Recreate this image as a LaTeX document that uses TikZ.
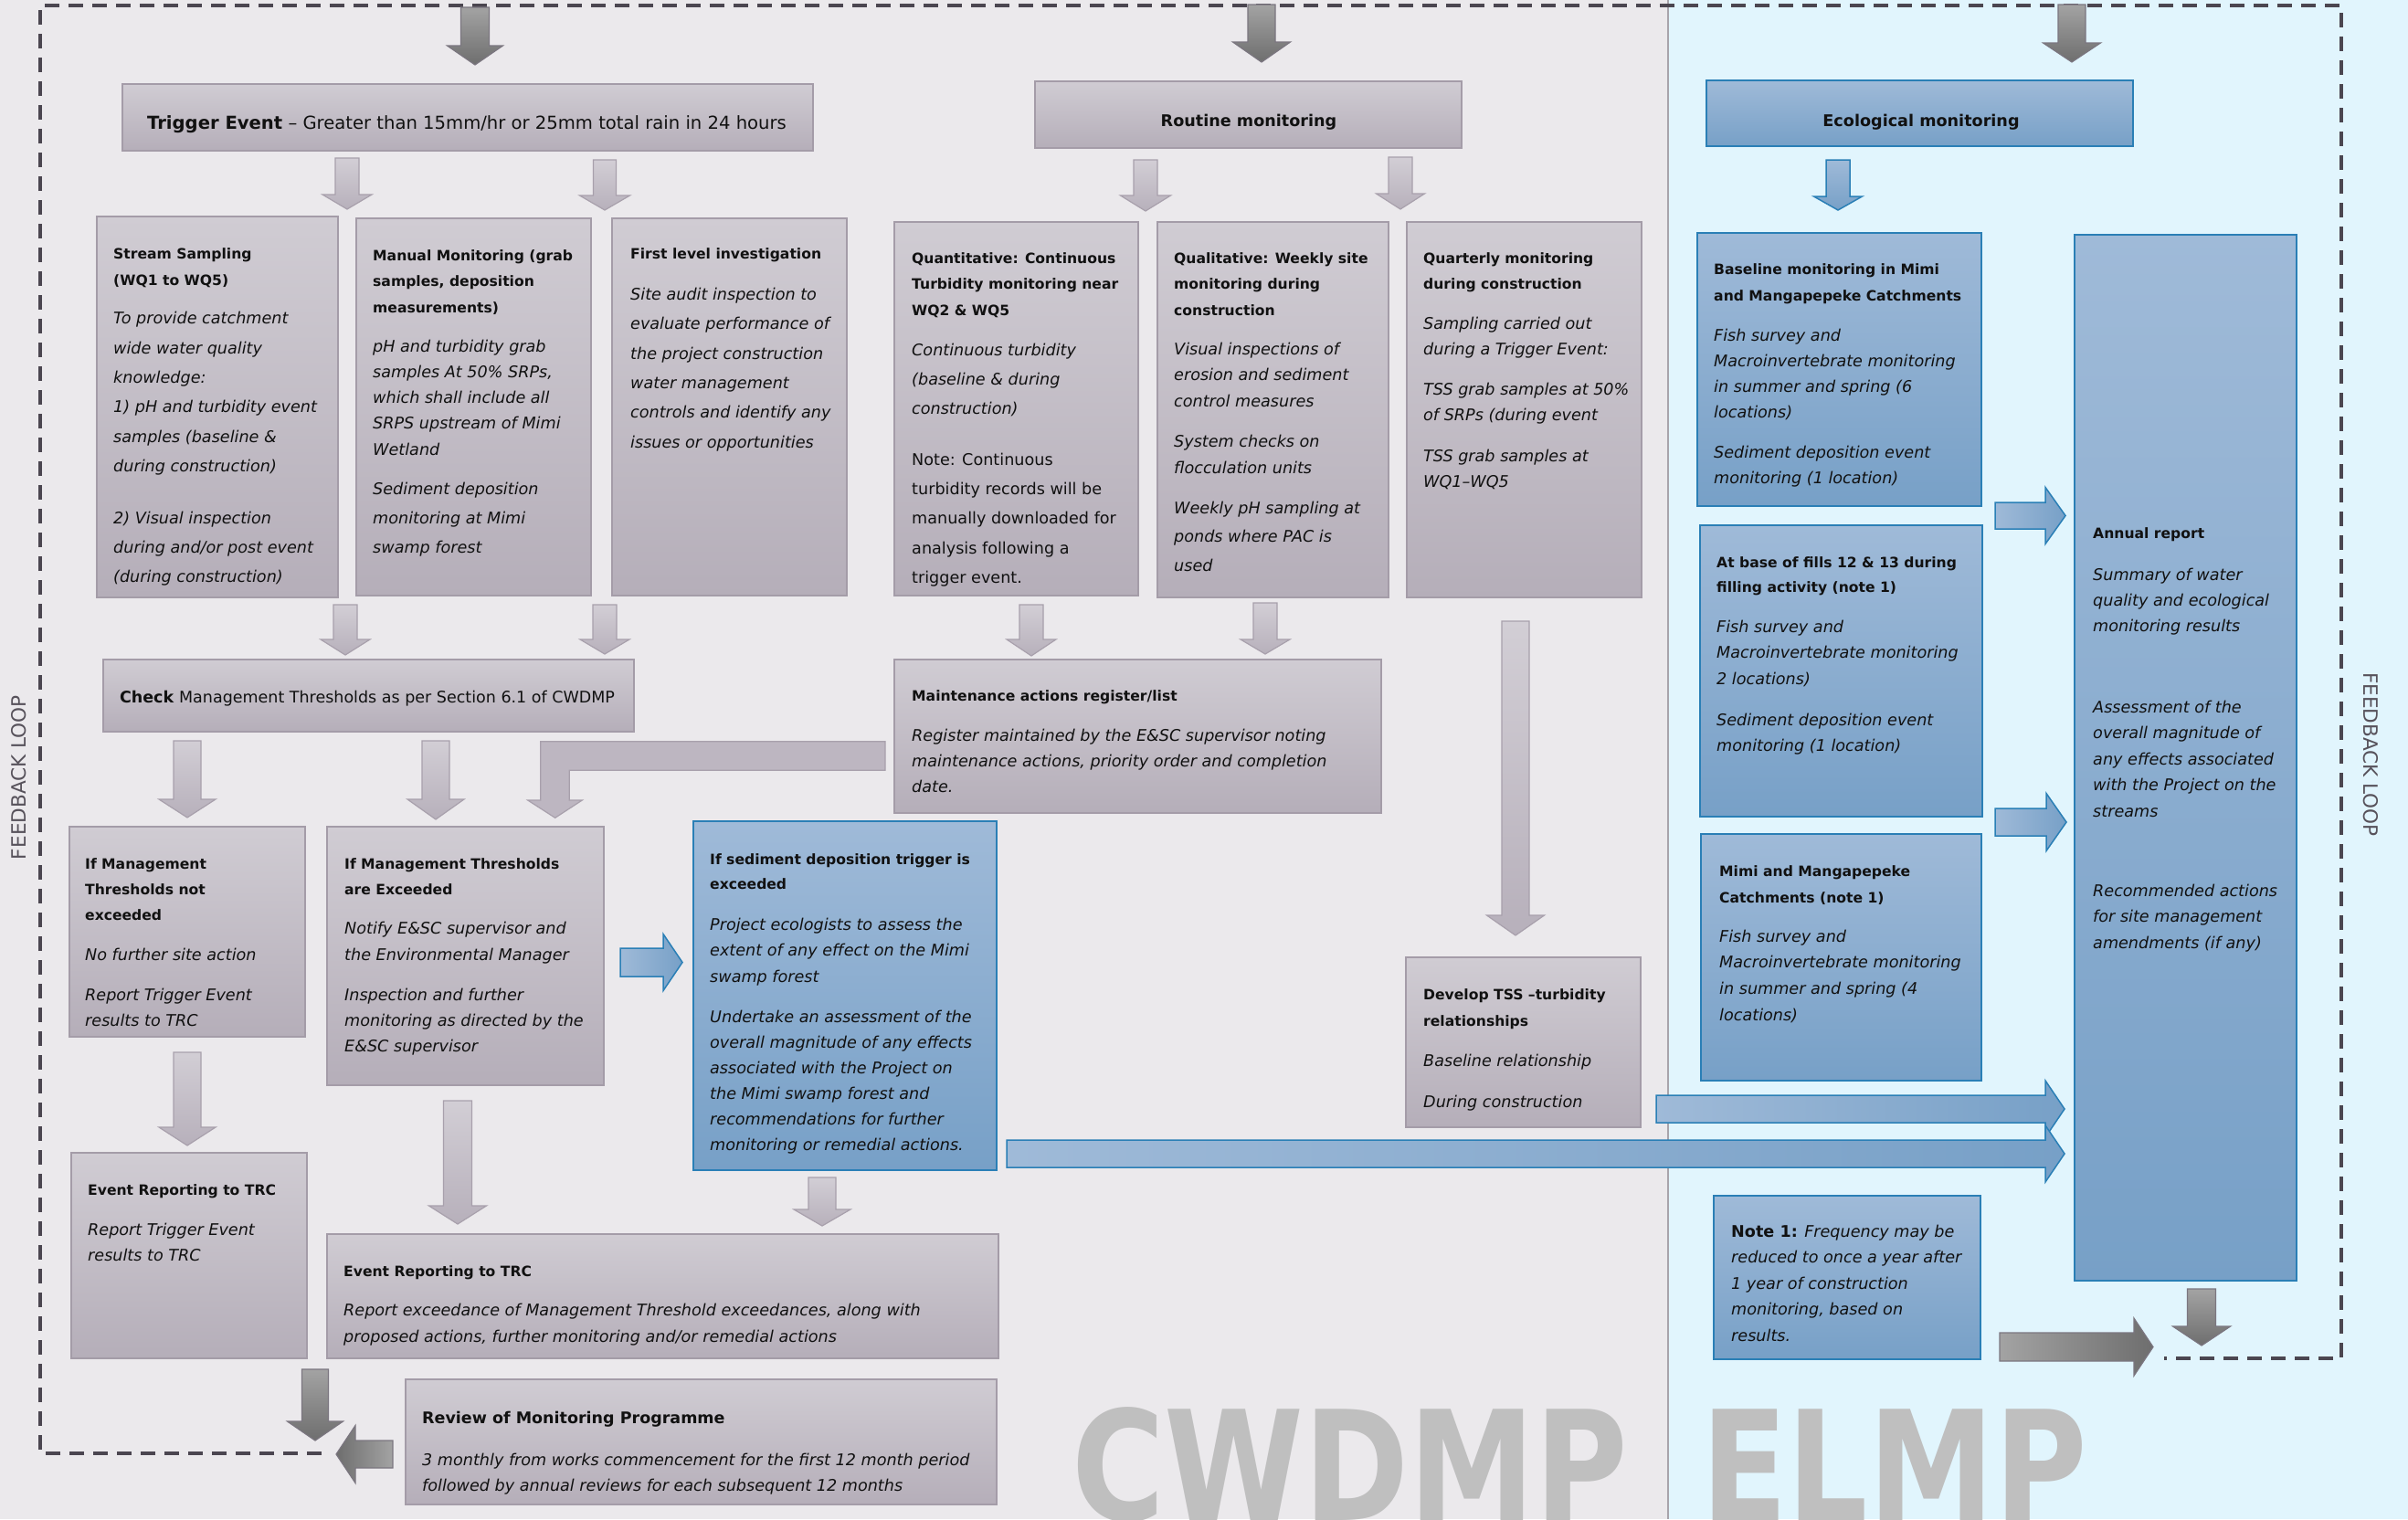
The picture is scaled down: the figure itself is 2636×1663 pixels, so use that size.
\documentclass[tikz,border=0pt]{standalone}
\usepackage{fontspec}
\setmainfont{DejaVu Sans}
\usepackage{graphicx}
\definecolor{bgL}{HTML}{EBE9EC}
\definecolor{bgR}{HTML}{E1F5FD}
\definecolor{divc}{HTML}{A8A4AB}
\definecolor{gtop}{HTML}{D0CCD3}
\definecolor{gbot}{HTML}{B5AEB9}
\definecolor{gbord}{HTML}{A49CA8}
\definecolor{btop}{HTML}{9FBAD8}
\definecolor{bbot}{HTML}{77A0C7}
\definecolor{bbord}{HTML}{2A7FB6}
\definecolor{atop}{HTML}{D2CED5}
\definecolor{abot}{HTML}{B7B0BB}
\definecolor{abord}{HTML}{A8A0AC}
\definecolor{elbowc}{HTML}{BDB6C1}
\definecolor{dtop}{HTML}{A3A3A3}
\definecolor{dbot}{HTML}{6E6E6E}
\definecolor{dbord}{HTML}{7B7680}
\definecolor{loopc}{HTML}{4B4650}
\definecolor{fbc}{HTML}{57525B}
\definecolor{cwc}{HTML}{BFBFBF}
\definecolor{txtc}{HTML}{111111}
\tikzset{
  gbox/.style={draw=gbord, line width=1.5, top color=gtop, bottom color=gbot, inner sep=0},
  bbox/.style={draw=bbord, line width=1.5, top color=btop, bottom color=bbot, inner sep=0},
  txt/.style={anchor=north west, inner sep=0, align=left, text=txtc},
  ltarrow/.style={draw=abord, line width=1.2, top color=atop, bottom color=abot},
  dkarrow/.style={draw=dbord, line width=1.2, top color=dtop, bottom color=dbot},
  dkright/.style={draw=dbord, line width=1.2, left color=dtop, right color=dbot},
  dkleft/.style={draw=dbord, line width=1.2, left color=dbot, right color=dtop},
  blright/.style={draw=bbord, line width=1.5, left color=btop, right color=bbot},
  bldown/.style={draw=bbord, line width=1.5, top color=btop, bottom color=bbot},
  looppath/.style={draw=loopc, line width=4, dash pattern=on 16pt off 10pt},
  bigword/.style={anchor=base west, inner sep=0, text=cwc, font=\fontsize{167}{167}\selectfont\bfseries},
}
% box: style, x1, y1, x2, y2, name
\newcommand\bx[6]{\node[#1,minimum width={#4-#2},minimum height={#5-#3}] (#6) at ({(#2+#4)/2},{(#3+#5)/2}) {};}
% paragraph: name, x, first baseline, size, skip, style, text
\newcommand\para[7]{\node[txt,font=\fontsize{#4}{#5}\selectfont#6] (#1) at ({#2},{#3-0.7*#5}) {\strut #7};}
% down block arrow: style, cx, ytop, shaft half, head half, yhead, ytip
\newcommand\DownBlk[7]{\draw[#1] ({#2-#4},#3) -- ({#2+#4},#3) -- ({#2+#4},#6) -- ({#2+#5},#6) -- (#2,#7) -- ({#2-#5},#6) -- ({#2-#4},#6) -- cycle;}
% side block arrow: style, xstart, cy, shaft half, head half, xhead, xtip
\newcommand\SideBlk[7]{\draw[#1] (#2,{#3-#4}) -- (#6,{#3-#4}) -- (#6,{#3-#5}) -- (#7,#3) -- (#6,{#3+#5}) -- (#6,{#3+#4}) -- (#2,{#3+#4}) -- cycle;}
\begin{document}
\begin{tikzpicture}[x=1pt,y=-1pt]
\useasboundingbox (0,0) rectangle (2636,1663);
\fill[bgL] (0,0) rectangle (1826,1663);
\fill[bgR] (1826,0) rectangle (2636,1663);
\draw[divc, line width=2] (1826,0) -- (1826,1663);
\begin{scope}
\clip (0,0) rectangle (2636,1663);
\node[bigword] (cw) at (1173,1664) {\scalebox{0.83}[1]{CWDMP}};
\node[bigword] (el) at (1862,1664) {\scalebox{0.83}[1]{ELMP}};
\end{scope}
% feedback loop
\coordinate (lpA) at (352,1591);
\coordinate (lpB) at (44,1591);
\coordinate (lpC) at (44,6);
\coordinate (lpD) at (2563,6);
\coordinate (lpE) at (2563,1487);
\coordinate (lpF) at (2369,1487);
\draw[looppath] (lpA) -- (lpB) -- (lpC) -- (lpD) -- (lpE) -- (lpF);
\node[rotate=90, inner sep=0, text=fbc, font=\fontsize{21.6}{24}\selectfont] (fbl) at (21,851) {FEEDBACK LOOP};
\node[rotate=-90, inner sep=0, text=fbc, font=\fontsize{21.6}{24}\selectfont] (fbr) at (2595,826) {FEEDBACK LOOP};
% boxes
\bx{gbox}{134}{92}{890}{165}{trig}
\bx{gbox}{1133}{89}{1600}{162}{rout}
\bx{bbox}{1868}{88}{2335}{160}{eco}
\bx{gbox}{106}{237}{370}{654}{s1}
\bx{gbox}{390}{239}{647}{652}{s2}
\bx{gbox}{670}{239}{927}{652}{s3}
\bx{gbox}{979}{243}{1246}{652}{q1}
\bx{gbox}{1267}{243}{1520}{654}{q2}
\bx{gbox}{1540}{243}{1797}{654}{q3}
\bx{gbox}{113}{722}{694}{801}{chk}
\bx{gbox}{979}{722}{1512}{890}{mnt}
\bx{gbox}{76}{905}{334}{1135}{ne}
\bx{gbox}{358}{905}{661}{1188}{ex}
\bx{bbox}{759}{899}{1091}{1281}{sd}
\bx{gbox}{1539}{1048}{1796}{1234}{tss}
\bx{gbox}{78}{1262}{336}{1487}{er1}
\bx{gbox}{358}{1351}{1093}{1487}{er2}
\bx{gbox}{444}{1510}{1091}{1647}{rv}
\bx{bbox}{1858}{255}{2169}{554}{b1}
\bx{bbox}{1861}{575}{2170}{894}{b2}
\bx{bbox}{1862}{913}{2169}{1183}{b3}
\bx{bbox}{1876}{1309}{2168}{1488}{nt}
\bx{bbox}{2271}{257}{2514}{1402}{ar}
% single-line titles
\node[anchor=base, inner sep=0, text=txtc, font=\fontsize{19.6}{24}\selectfont] (trigt) at (511,141) {\textbf{Trigger Event} – Greater than 15mm/hr or 25mm total rain in 24 hours};
\node[anchor=base, inner sep=0, text=txtc, font=\fontsize{17.6}{22}\selectfont\bfseries] (routt) at (1367,138) {Routine monitoring};
\node[anchor=base, inner sep=0, text=txtc, font=\fontsize{17.6}{22}\selectfont\bfseries] (ecot) at (2103,138) {Ecological monitoring};
\node[anchor=base, inner sep=0, text=txtc, font=\fontsize{17.5}{22}\selectfont] (chkt) at (402,769) {\textbf{Check} Management Thresholds as per Section 6.1 of CWDMP};
% box texts
\para{s1a}{124}{283}{15.6}{29}{\bfseries}{Stream Sampling\\(WQ1 to WQ5)}
\para{s1b}{124}{354.5}{17.6}{32.4}{\itshape}{To provide catchment\\wide water quality\\knowledge:\\1) pH and turbidity event\\samples (baseline \&\\during construction)}
\para{s1c}{124}{573}{17.6}{32}{\itshape}{2) Visual inspection\\during and/or post event\\(during construction)}
\para{s2a}{408}{285}{15.6}{28.5}{\bfseries}{Manual Monitoring (grab\\samples, deposition\\measurements)}
\para{s2b}{408}{385}{17.6}{28.2}{\itshape}{pH and turbidity grab\\samples At 50\% SRPs,\\which shall include all\\SRPS upstream of Mimi\\Wetland}
\para{s2c}{408}{541}{17.6}{32}{\itshape}{Sediment deposition\\monitoring at Mimi\\swamp forest}
\para{s3a}{690}{283}{15.6}{29}{\bfseries}{First level investigation}
\para{s3b}{690}{328}{17.6}{32.4}{\itshape}{Site audit inspection to\\evaluate performance of\\the project construction\\water management\\controls and identify any\\issues or opportunities}
\para{q1a}{998}{288}{15.6}{28.5}{\bfseries}{Quantitative: Continuous\\Turbidity monitoring near\\WQ2 \& WQ5}
\para{q1b}{998}{389}{17.6}{32}{\itshape}{Continuous turbidity\\(baseline \& during\\construction)}
\para{q1c}{998}{509}{17.6}{32.3}{}{Note: Continuous\\turbidity records will be\\manually downloaded for\\analysis following a\\trigger event.}
\para{q2a}{1285}{288}{15.6}{28.5}{\bfseries}{Qualitative: Weekly site\\monitoring during\\construction}
\para{q2b}{1285}{388}{17.6}{28.7}{\itshape}{Visual inspections of\\erosion and sediment\\control measures}
\para{q2c}{1285}{489}{17.6}{29}{\itshape}{System checks on\\flocculation units}
\para{q2d}{1285}{562}{17.6}{31.5}{\itshape}{Weekly pH sampling at\\ponds where PAC is\\used}
\para{q3a}{1558}{288}{15.6}{28.5}{\bfseries}{Quarterly monitoring\\during construction}
\para{q3b}{1558}{360}{17.6}{28.5}{\itshape}{Sampling carried out\\during a Trigger Event:}
\para{q3c}{1558}{432}{17.6}{28.5}{\itshape}{TSS grab samples at 50\%\\of SRPs (during event}
\para{q3d}{1558}{505}{17.6}{28}{\itshape}{TSS grab samples at\\WQ1–WQ5}
\para{mnta}{998}{767}{15.6}{28}{\bfseries}{Maintenance actions register/list}
\para{mntb}{998}{811}{17.6}{28.3}{\itshape}{Register maintained by the E\&SC supervisor noting\\maintenance actions, priority order and completion\\date.}
\para{nea}{93}{951}{15.6}{28}{\bfseries}{If Management\\Thresholds not\\exceeded}
\para{neb}{93}{1051}{17.6}{28}{\itshape}{No further site action}
\para{nec}{93}{1095}{17.6}{28}{\itshape}{Report Trigger Event\\results to TRC}
\para{exa}{377}{951}{15.6}{28}{\bfseries}{If Management Thresholds\\are Exceeded}
\para{exb}{377}{1022}{17.6}{29}{\itshape}{Notify E\&SC supervisor and\\the Environmental Manager}
\para{exc}{377}{1095}{17.6}{28}{\itshape}{Inspection and further\\monitoring as directed by the\\E\&SC supervisor}
\para{sda}{777}{946}{15.6}{27.5}{\bfseries}{If sediment deposition trigger is\\exceeded}
\para{sdb}{777}{1018}{17.6}{28.5}{\itshape}{Project ecologists to assess the\\extent of any effect on the Mimi\\swamp forest}
\para{sdc}{777}{1119}{17.6}{28}{\itshape}{Undertake an assessment of the\\overall magnitude of any effects\\associated with the Project on\\the Mimi swamp forest and\\recommendations for further\\monitoring or remedial actions.}
\para{tssa}{1558}{1094}{15.6}{29}{\bfseries}{Develop TSS –turbidity\\relationships}
\para{tssb}{1558}{1167}{17.6}{28}{\itshape}{Baseline relationship}
\para{tssc}{1558}{1212}{17.6}{28}{\itshape}{During construction}
\para{er1a}{96}{1308}{15.6}{28}{\bfseries}{Event Reporting to TRC}
\para{er1b}{96}{1352}{17.6}{28}{\itshape}{Report Trigger Event\\results to TRC}
\para{er2a}{376}{1397}{15.6}{28}{\bfseries}{Event Reporting to TRC}
\para{er2b}{376}{1440}{17.6}{29.5}{\itshape}{Report exceedance of Management Threshold exceedances, along with\\proposed actions, further monitoring and/or remedial actions}
\para{rva}{462}{1558}{17.5}{28}{\bfseries}{Review of Monitoring Programme}
\para{rvb}{462}{1604}{17.6}{28}{\itshape}{3 monthly from works commencement for the first 12 month period\\followed by annual reviews for each subsequent 12 months}
\para{b1a}{1876}{300}{15.6}{29}{\bfseries}{Baseline monitoring in Mimi\\and Mangapepeke Catchments}
\para{b1b}{1876}{373}{17.6}{28}{\itshape}{Fish survey and\\Macroinvertebrate monitoring\\in summer and spring (6\\locations)}
\para{b1c}{1876}{501}{17.6}{28}{\itshape}{Sediment deposition event\\monitoring (1 location)}
\para{b2a}{1879}{621}{15.6}{27.5}{\bfseries}{At base of fills 12 \& 13 during\\filling activity (note 1)}
\para{b2b}{1879}{692}{17.6}{28.5}{\itshape}{Fish survey and\\Macroinvertebrate monitoring\\2 locations)}
\para{b2c}{1879}{794}{17.6}{28}{\itshape}{Sediment deposition event\\monitoring (1 location)}
\para{b3a}{1882}{959}{15.6}{29}{\bfseries}{Mimi and Mangapepeke\\Catchments (note 1)}
\para{b3b}{1882}{1031}{17.6}{28.7}{\itshape}{Fish survey and\\Macroinvertebrate monitoring\\in summer and spring (4\\locations)}
\para{ntt}{1895}{1354}{17.6}{28.5}{\itshape}{\textbf{\upshape Note 1:} Frequency may be\\reduced to once a year after\\1 year of construction\\monitoring, based on\\results.}
\para{ara}{2291}{589}{15.6}{28}{\bfseries}{Annual report}
\para{arb}{2291}{635}{17.6}{28}{\itshape}{Summary of water\\quality and ecological\\monitoring results}
\para{arc}{2291}{780}{17.6}{28.5}{\itshape}{Assessment of the\\overall magnitude of\\any effects associated\\with the Project on the\\streams}
\para{ard}{2291}{981}{17.6}{28.5}{\itshape}{Recommended actions\\for site management\\amendments (if any)}
% dark arrows
\DownBlk{dkarrow}{520}{8}{15.5}{30.5}{50}{71}
\DownBlk{dkarrow}{1381}{5}{15}{31.5}{46}{68}
\DownBlk{dkarrow}{2268}{5}{15}{31.5}{47}{68}
\DownBlk{dkarrow}{345}{1499}{14.5}{30.5}{1556}{1577}
\DownBlk{dkarrow}{2410}{1411}{15.5}{31.5}{1452}{1473}
\SideBlk{dkright}{2189}{1474.5}{15.5}{31.5}{2336}{2357}
\SideBlk{dkleft}{430}{1592}{15}{31.5}{389}{368}
% light arrows
\DownBlk{ltarrow}{380}{173}{13}{27}{213}{229}
\DownBlk{ltarrow}{662}{175}{12.5}{27.5}{214}{230}
\DownBlk{ltarrow}{1254}{175}{13}{27.5}{214}{231}
\DownBlk{ltarrow}{1533}{172}{13}{26.5}{212}{229}
\DownBlk{ltarrow}{378}{662}{13}{27}{700}{717}
\DownBlk{ltarrow}{662}{662}{13}{27}{700}{716}
\DownBlk{ltarrow}{1129}{662}{13}{27}{700}{718}
\DownBlk{ltarrow}{1385}{660}{13}{27}{700}{716}
\DownBlk{ltarrow}{1659}{680}{15}{31.5}{1002}{1024}
\DownBlk{ltarrow}{205}{811}{15}{31}{875}{895}
\DownBlk{ltarrow}{477}{811}{15}{31}{875}{897}
\DownBlk{ltarrow}{205}{1152}{15}{31}{1234}{1254}
\DownBlk{ltarrow}{501}{1205}{15.5}{31.5}{1320}{1340}
\DownBlk{ltarrow}{900}{1289}{15}{31}{1324}{1342}
\draw[draw=abord, line width=1.2, fill=elbowc] (969,811.7) -- (591.7,811.7) -- (591.7,876) -- (577.7,876) -- (607.7,895.3) -- (637.3,876) -- (623.3,876) -- (623.3,843.3) -- (969,843.3) -- cycle;
% blue arrows
\DownBlk{bldown}{2012}{175}{13}{26.5}{215}{230}
\SideBlk{blright}{679}{1053.5}{15.5}{31}{726}{747}
\SideBlk{blright}{2184}{564.5}{14.5}{31}{2239}{2261}
\SideBlk{blright}{2184}{900}{15}{31.5}{2240}{2262}
\SideBlk{blright}{1813}{1214}{15}{31}{2239}{2260}
\SideBlk{blright}{1102}{1263}{15}{31}{2239}{2260}
\end{tikzpicture}
\end{document}
